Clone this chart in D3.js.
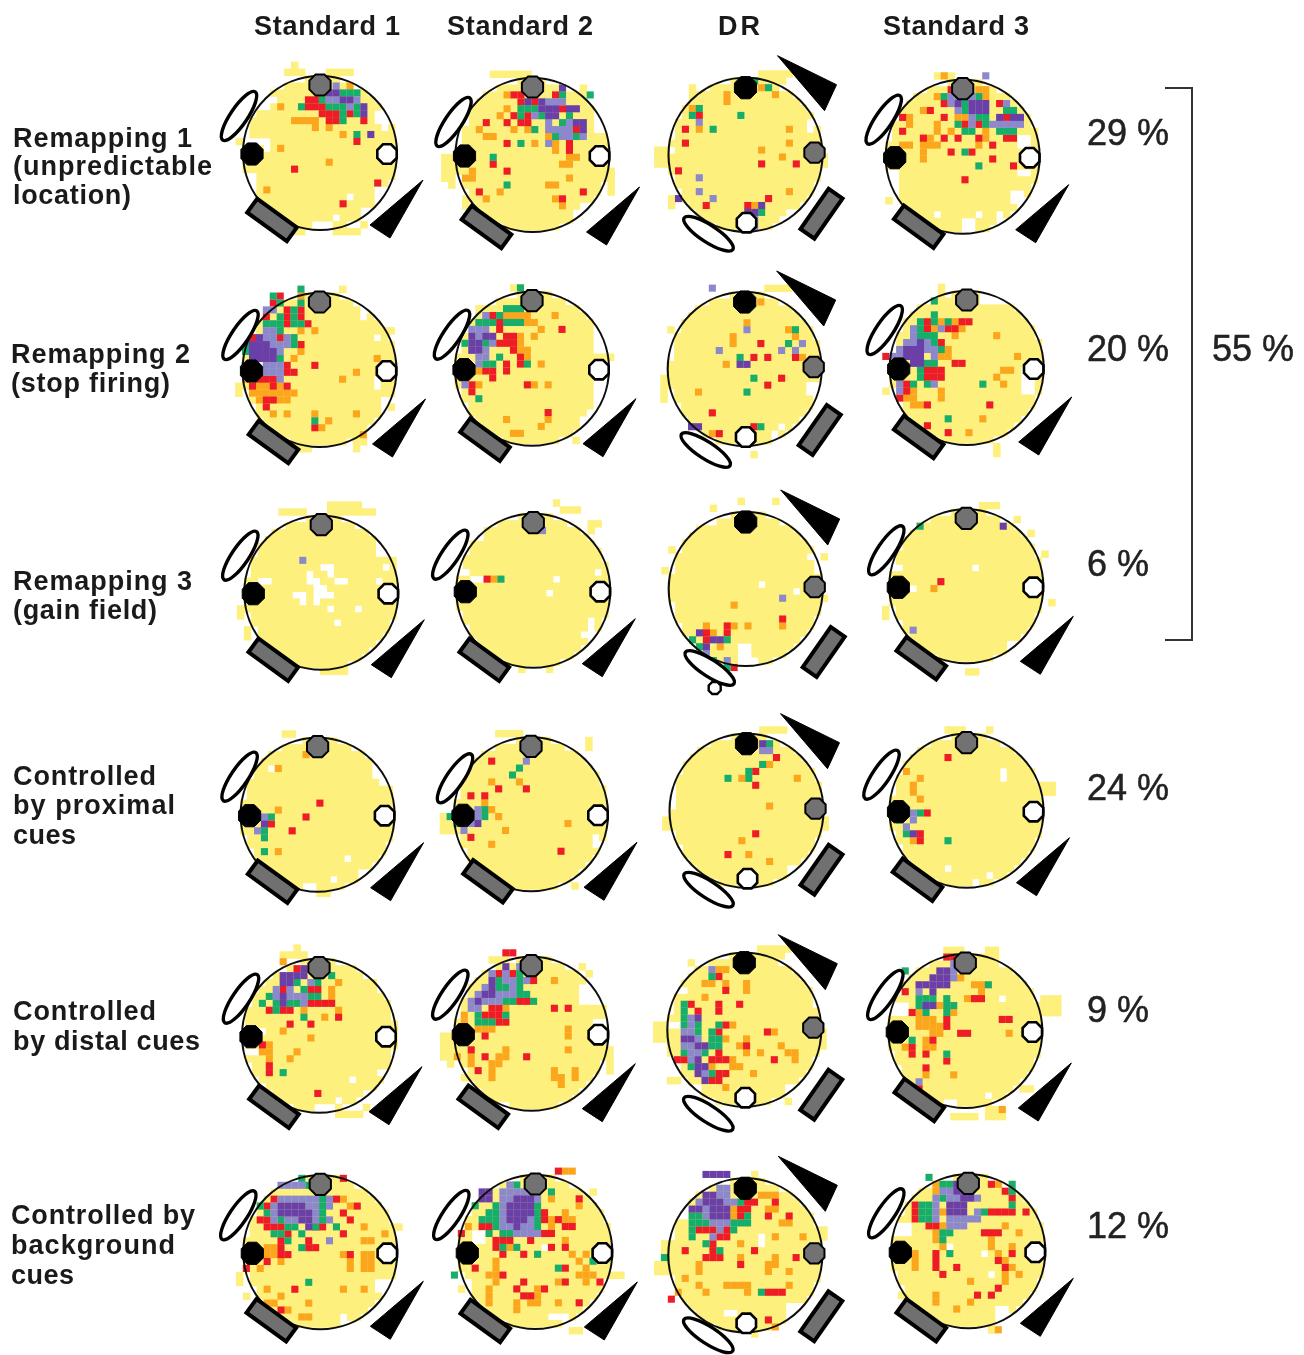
<!DOCTYPE html>
<html><head><meta charset="utf-8">
<script src="https://cdnjs.cloudflare.com/ajax/libs/d3/7.8.5/d3.min.js"></script>
<style>html,body{margin:0;padding:0;background:#fff}svg{display:block}</style>
</head><body><div id="c"></div>
<script>
const columnLabels = ["Standard 1","Standard 2","DR","Standard 3"];
const rowLabels = [
 ["Remapping 1","(unpredictable","location)"],
 ["Remapping 2","(stop firing)"],
 ["Remapping 3","(gain field)"],
 ["Controlled","by proximal","cues"],
 ["Controlled","by distal cues"],
 ["Controlled by","background","cues"]];
const percentLabels = ["29 %","20 %","6 %","24 %","9 %","12 %"];
const bracketLabel = "55 %";

// firing-rate bins per map: "row:col,col-col" (o orange, r red, g green, l light purple, p purple, w empty bin, y extra visited bin)
const m11={o:"2:16 5:6 7:8-11 8:11,13 9:15 11:6 13:13 17:4",r:"4:10-11 5:10-12 6:12-14,16 7:13-14,18 10:17 14:8 16:20 19:15",g:"3:15-17 4:12 5:9,13-15,17 6:15,17 7:15 9:17",l:"2:14 4:13-14,17 5:16",p:"3:13-14 4:15-16 5:18 6:18 9:19",w:"10:1-4 11:4 15:1-2 16:1-2 17:1-2 22:11-13 21:14 18:16 20:18-19 4:3-5 5:3-4 6:20-21 7:20-21 8:21 17:20-21 18:20-21",y:"-1:8 0:7-9,13-16 23:14-17,8-9 22:18 10:0"};
const m12={o:"3:8 5:8 6:7 8:4,9,11 9:14,5-6 10:12,15 11:15 12:17-18 13:16-17 14:3 15:2-3,17 16:14-15 17:7 18:5,15 19:16",r:"3:9-10,15 4:10,12 5:16 6:9,11 7:5,8,10-11 8:18 10:8,17 11:17 13:6 14:8 17:4,19 18:16",g:"3:16,20 5:10-12 6:10,13,17 7:16 8:12 9:15,18 10:10 12:6 16:8",l:"4:14-16 6:12 7:14,17 8:14-17 9:16-17,19 10:14",p:"2:16 4:11,13 5:13-15,17-18 6:14-15 7:18-19 8:19",w:"1:14-15 6:1-2 7:1-2 8:1 9:1 10:1 19:19-20 20:18-20 6:21-22 7:21-22 8:21-22 21:18-19",y:"0:6-11 2:19 3:19 12:-1-0 13:-1-0 14:-1-0 15:-1-0 16:0 14:23 15:23 16:23 17:23 18:2 19:2"};
const m13={o:"2:14 3:16,9 4:9 5:4 8:5,18 10:18 11:14 12:17 17:18 19:13",r:"6:5 8:3 10:3 13:14,19 14:2 18:15 19:6,12",g:"1:13 2:15 5:5 6:4,11 8:7 20:14",l:"7:5 15:5 17:5 18:7 21:13 22:13",p:"18:2 19:14 20:12-13",w:"11:1 5:1-2 6:1 7:21 8:21 20:18 21:17",y:"0:14-18 1:15-17 2:4 3:4 11:-1-0 12:-1-0 13:-1-0 12:23 13:23 18:1 19:1"};
const m14={o:"0:9 3:8 2:14-15 3:15 5:6 6:4,11-12 7:4,8 8:8,10,15 9:6,7,15 10:3-4,6-8,14 11:6 12:6",r:"2:10 4:9,17 5:7 6:3,9,18 7:12,14 8:3 9:6,9,11,14,18-19 10:16 11:10,13 12:16 13:19 15:12",g:"3:9,14 4:12 5:12,18-19 6:14-15 7:11,15 8:12-13,17-19 11:12 13:14",l:"0:15 3:10-13 4:10 5:11 6:13 7:13,16-20 4:18",p:"4:11,13-15 5:13-15 6:17,19-20",w:"9:20-21 10:20-21 20:8,14,17 21:12-13,17 22:12-13 17:19-20 18:19-20 14:20-21 14:1-2 15:1-2 16:1-2 17:1-2",y:"0:8-10 18:1"};
const m21={o:"1:9 6:9,11 9:9 10:8 13:1 14:3-4,6 15:2-8 16:3,6-7 18:5,7,11,17 19:13 20:12 10:20 12:17 13:15 21:18",r:"1:6 2:5 3:7,9 4:4,7,9 5:7,10 7:6 8:9 7:2 11:11,7 12:7-8 13:3-5 14:2,5,7 16:4-5 17:4 20:11",g:"0:9 1:5 2:6,9 3:8 4:6,8 5:4-6,8-9 6:6 7:8 8:8,1 9:1 10:6 19:11",l:"3:4-5 6:4-5 7:4-5,7 8:5-7 9:6 11:4-6 12:4-6 13:6",p:"7:3 8:2-4 9:2-5 10:2-5",w:"3:18 4:18 7:20 13:20 14:20 16:21 17:21 11:3",y:"14:0 15:0 0:15 6:22 23:9-10 22:17-18 23:17 17:22"};
const m22={o:"4:8-11,15 5:10-11,12 6:13 7:10,12 8:10 9:10-11 10:11 11:13 12:4 14:4,12,14 19:8,14 20:13 21:9-10",r:"4:6 5:7 6:7,16 7:8-9 8:7-9 9:9 10:10 11:8,10 12:5-6,8 13:6 14:3,11 15:3 18:14",g:"0:10 3:8-10 4:7 5:4-6,8-10 8:2,5 10:7 11:5-6,11 16:4",l:"4:5 6:3-4,5 7:4 8:6 9:3,5 10:4-5 11:4 14:2",p:"7:3,5-6 8:3-4 9:3-4",w:"4:21-22 5:21-22 6:21-22 7:21-22 8:21-22 9:21-22 11:21-22 12:21-22 13:21-22 14:21-22 15:21-22 16:21 17:21 18:20-21 19:19-21 20:19-20",y:"0:9-10 3:4 10:23 22:18"};
const m23={o:"2:14 5:12 6:18 7:19,10 8:10 10:20 11:9 21:7 15:5",r:"8:14 10:13,15,19 13:17 14:15 18:7 20:13 21:8",g:"6:19 8:18 10:11 13:13 15:12 20:14",l:"0:7 6:12 8:20 9:8,17,19",p:"11:11-12 20:4-5",w:"14:21-22 15:21-22 9:1 10:1 20:17 21:16",y:"6:1 13:0 14:0 15:0 16:0 0:15-18 24:13"};
const m24={o:"5:8,10 6:7,11 7:10,16 9:9 10:8-9,19 12:17-18 13:16 14:17 15:3-4,8 16:3-4,8 17:4-5 19:14 21:12",r:"5:6,11-12 6:6,9-10 8:8 10:0 11:10-11 12:6-8 13:6-8 14:3 16:2 15:3 17:6,15 20:6 21:9",g:"2:7 4:7 5:5,7,9 6:5 7:5-7 8:7 9:8 11:6-7 12:5 13:5 14:4,6,14 19:9",l:"6:4,8 7:4 8:3-4,6 9:2,6-7 10:1-2,7 14:2,7 15:2",p:"8:5 9:3-5 10:3-5 11:4-5",w:"12:20-21 13:20-21 14:20-21 15:20-21 1:14-17 2:14-17 17:1-2",y:"0:8 1:8 23:16 24:16 15:0"};
const m31={l:"7:9",w:"5:20 6:20-21 8:21,12-13 9:13,10 10:20,3-4,10-11,14-15 11:11-12 12:8-9,11-13 13:9,11 14:13,17 16:14",y:"-1:13-17 0:6-9,13-19 14:0 15:0 17:1 18:1 7:22 23:12-15"};
const m32={o:"10:6",r:"10:5",g:"10:7",l:"3:13",w:"10:15,3-4 12:14 9:2 16:20 18:19-20 17:20 4:4 9:21",y:"-1:15 0:16-18 2:20-21 3:20 23:10,14"};
const m33={o:"14:10 17:17,12,10,6 18:7 20:8",r:"16:17 17:9 18:9,6 19:6 23:10",g:"19:9,4 20:5 22:7 23:9",l:"13:17 21:6 22:9",p:"18:5 19:7-8 20:6",w:"11:14 7:21 2:7 8:22 9:22 20:11-12 21:11-12 22:11-13 23:13 14:1 12:19",y:"-1:11,16 0:7 7:23 13:23 6:1 9:0"};
const m34={o:"12:7",r:"11:8",g:"3:5",l:"18:4",p:"3:17",w:"9:13,2 12:4 20:18",y:"0:14-16 2:19 4:21 7:23 14:24 15:0 16:0 24:12-13"};
const m41={o:"3:10 5:6 11:6 17:6",r:"10:12 12:10 14:8 13:5",g:"12:5 14:4 15:4 17:4",l:"12:4 14:3",p:"13:4",w:"18:16 5:5 5:20-21 6:20-21 7:21 21:14 22:10-11 20:18",y:"0:7-8 23:12-13"};
const m42={o:"7:6,10 10:5 11:6 12:7 14:8 16:6 13:17",r:"4:6 8:7,11 9:3,5 15:3 17:16",g:"6:9 5:10 11:5 12:5,0 13:1",l:"4:11 11:4 12:4 13:3 14:2",p:"13:4",w:"4:21 15:21 16:21",y:"12:-1-0 13:-1-0 14:-1-0 0:7-10 1:20 2:20 22:18"};
const m43={o:"5:15 7:11,19 11:15 16:11 18:12 19:15",r:"4:16 6:13 8:13 15:13 18:9",g:"2:15 5:14 6:12 7:9,12",l:"3:14-15",p:"2:14",w:"10:1 11:1 5:1 20:18",y:"0:14-17 13:0 14:0 13:23 14:23"};
const m44={o:"6:3 7:5 8:4 9:4 10:5 16:4",r:"4:9 12:6 15:5 16:5",g:"12:5 13:2 15:3 16:9",l:"12:4 13:4 14:3",p:"15:4",w:"6:17 7:17 20:9 21:15 22:13 18:21 4:20",y:"0:9-11,15 8:23-24 9:23-24"};
const m51={o:"1:7 4:15 5:14 6:14 8:10,15 9:13 11:7 12:11 13:5 14:4-5,9 15:5,8",r:"2:9 5:7,11-12 7:11-12,13-14 8:5,7-8 9:15 10:8,11 13:4 16:5 17:5 20:12",g:"3:14 4:9,12 5:10 6:5,11-12 7:4,6,8-9 8:6 9:10 17:7",l:"4:11 5:6,8 6:6,8-10 7:10",p:"2:10 3:7-10 4:7-8 6:7 7:7",w:"18:17 21:15 22:12-14 17:21 11:4 14:2-3 20:19",y:"-1:9 0:7-10 23:15-18 22:19,9"};
const m52={o:"4:15 8:8 9:2 10:2 11:4-6,17 12:17 14:8,17 15:3,7,8,1 16:3,6-7 17:6,15,18 18:6,15-16,18 19:16",r:"0:8-9 3:7,9 4:12 7:10-11 8:6-7,15,17 9:5-7 10:7-8 12:5 14:3 15:5,11 17:4",g:"3:10 4:7,10 5:7-8,10 6:10-11 7:8-9,12 9:4,8 10:4-6",l:"2:10 3:6,8 4:8-9,11 5:5,9 6:4,7-9 7:3,5-7 8:3-4",p:"2:8 4:6 5:6 6:5-6 7:4",w:"5:19-21 6:19-21 7:19-21 10:21-22 20:19 22:8",y:"1:6-8 2:19 3:20 12:-1-0 13:-1-0 14:-1-0 15:-1-0 16:0 14:23 15:23 16:23 17:23 18:2"};
const m53={o:"3:8-9 5:6-7,9,12 6:12 7:6 11:10 12:16 13:9,12 14:11,17 15:12,14,18-19 16:10,19 17:7,10-11 18:13 20:9",r:"4:8 6:9 8:4,8,11 9:8,5 11:9 12:8,15 14:12 15:8 16:2-3,7-9,16 18:8-9 19:7-8",g:"4:7 8:3 9:3 10:3 11:3,5,8 12:5,7 13:7-8 14:7-8 15:3,6 17:4 18:7",l:"3:7 10:4 11:4 12:3-4 13:5 14:3-4 15:4-5 16:4 18:6",p:"10:5 13:3-4 14:5-6 16:5 17:5-6 18:5 19:6",w:"11:1-2 9:1 8:22 6:2-3 20:5 20:18",y:"0:14-18 1:14-17 2:4 11:-1-0 12:-1-0 13:-1-0 12:23 13:23 14:23 15:1 19:1-2 22:18"};
const m54={o:"4:11 5:13-14 6:14 7:12-13 8:8 9:5,10 10:5-7 11:5-8 12:7-8,18 13:6 14:3,6-7 18:6,10 23:17",r:"1:9-10 6:3 7:13-14 9:4 10:9,17-18 11:9 12:11-12 13:7 14:4 15:4,6 16:9 17:6 20:5",g:"3:3 5:15 7:5-7,9 8:5-6,9-10 9:6,9 13:4 15:9",l:"2:10 3:10 4:10 6:5 19:5",p:"3:8-9 4:7-9 5:5-9 6:7 8:6-7",w:"7:17 22:9-10 21:15 8:1-3 9:1-3",y:"0:9-11,15-16 1:15-16 7:23-25 8:23-25 9:23-25 20:20-21 23:15-17 24:15-17,10-13"};
const m61={o:"4:15 5:16 8:18 9:21 10:18-19 11:4-5 12:4-6,15,18-19 13:6,16,18,19 14:3,16,18-19 17:4,15,18 18:6 19:4-5,10 20:7 21:9-10",r:"1:15 4:5,14 5:4,17 6:15 7:3-4,16 8:4-6,11-12 9:7,15 10:6,10 11:6,10-11 12:6-7,16 13:4 14:1 17:8 20:6",g:"1:9 2:10 4:12 5:3,12 6:4,12 7:6,12 8:7-8,11,14 9:5-6,9 10:7 11:9 16:10",l:"2:6-9 4:6-11,13 5:5,10-11,13 6:5,11 7:5,7-8,11,13 10:13",p:"5:6-9 6:6-10 7:9-10 8:10",w:"11:1-2 2:8 16:1 18:2 21:15 22:15 16:20-21 17:20-21",y:"15:0 16:0 18:1 8:23"};
const m62={o:"0:16-17 4:14 5:18 6:16 7:14,16-17 8:2,14 10:16 11:8 12:17,19 13:6,18 14:6,19 15:5-6,18-20 16:6,15,19 17:5,12 18:5,12 19:5,9,11-12,15 20:9",r:"0:15 4:18 6:13 7:13,15 8:4-5,16-17 9:1,13-14 10:6-8,11 11:6,14,16 12:7,10 14:3,16 15:7 16:10,16,21 17:9,13 18:10-11 19:18",g:"2:9 3:14 5:3,6,12 6:5-6,12 7:4-6,12 8:6,12 9:5,7-8 11:7,9 12:12 13:20 14:15 15:0",l:"2:8 3:7-11 4:7-8,12 5:7 6:7 7:7,11 8:7-8,10-11 9:9-12",p:"3:4-5 4:4-5,9-11 5:8-11 6:8-11 7:8-10 8:9",w:"9:3-4 10:3-4 11:13 21:14-16 16:2",y:"23:17-18 3:20 15:23-24 17:1"};
const m63={o:"3:14-16 5:10,15-16 6:10 7:17-18 9:16,20 10:11 12:11,16 13:5,15-16 14:5,15,18 15:3 16:5,9-12,18 17:6,12,2 22:16",r:"4:12-13,16 5:11-12 6:11,15,18 8:5-7,9 9:8-9 10:7 11:3,7,13 12:6-8,19 13:11 18:1 17:15-17 21:15",g:"4:11 6:4-5,12 7:4-6,10-12 8:4,10 9:4 10:6 11:8 12:0 17:14",l:"2:8-9 3:8-9 4:5,9-10 5:6 6:6 7:7-9 8:8 9:7",p:"0:6-9 3:6-7 4:6-8 5:4-5,7-9 6:7-9",w:"9:14 10:14 20:9-10 19:18-19 20:18-19 5:2-3 6:2-3",y:"13:-1-0 14:-1-0 10:0 11:0 0:13 8:23 9:23 23:13 21:7-8"};
const m64={o:"2:7,16 3:7 6:8 8:8,17 9:7,19 10:7,15 11:8,15,18 12:4,16 13:4,17 14:4,18 15:17,19 16:12,17 18:7 19:7,12 20:10 23:16",r:"2:15 3:17 4:18 5:4 6:4,15-18,20 7:4 8:6-7 9:14-16 12:7,18 13:7,16 14:7,10,17 15:8 17:16 18:13,15",g:"1:6 2:8-9,18 3:18 4:8 5:5-6,18 6:5-6,14 7:5-6 9:8,9 10:8 12:9",l:"3:8-9 4:7,9-10,13 5:7 6:7,13 7:7,9-13 8:9-11",p:"2:10 3:10-12 4:11-12 5:9-11 6:9-11",w:"12:14 15:15 11:9 20:16-17 21:16-17 8:1-3 9:1-3",y:"23:15 18:2 6:4"};

const mapCells=[[m11,m12,m13,m14],[m21,m22,m23,m24],[m31,m32,m33,m34],[m41,m42,m43,m44],[m51,m52,m53,m54],[m61,m62,m63,m64]];

const W=1304,H=1355;
const centers=[[[320,153],[532.5,155],[745.5,154.7],[962.7,156.7]],[[319.5,370],[532,368.7],[744.7,369],[966.7,368]],[[321.3,592.7],[533.3,590.7],[745.7,589],[966.3,586.3]],[[317.6,814.7],[531,814.3],[746.5,810.7],[966.5,810.7]],[[319,1035.7],[531.3,1033.7],[744.3,1029.7],[965.3,1031]],[[320.3,1252.3],[535.3,1252],[745.3,1255.3],[968.3,1251.3]]];
const gridShift={"4,0":-0.5};
const cueShift=[[[0,0,0,0,0,0],[2,5,4,5,2,4],[0,-1,-1,0,0,-1],[4,3,3,1,2,0]],[[2,5,3,2,2,2],[1,4,1,3,1,3],[-1,1,-1,1,-2,1],[0,2,2,2,-1,-1]],[[0,0,0,0,0,0],[-1,2,-1,1,-2,1],[2,3,2,0,1,-1],[3,5,4,3,1,1]],[[3,0,3,1,3,-1],[5,0,3,1,5,1],[-1,-1,1,2,-1,-1],[-1,2,0,0,-4,1]],[[3,4,0,4,3,0],[0,6,1,3,0,-2],[1,5,1,4,1,4],[2,2,3,5,1,1]],[[-1,1,0,2,-1,0],[-2,2,-1,3,-3,0],[0,1,0,0,0,0],[1,2,2,0,-1,-1]]];

const colors={y:"#fdf07c",o:"#fba61f",r:"#ee1c25",g:"#16ae6a",l:"#8c88cc",p:"#6b41a8"};
const CELL=6.93, R=77, MID=11.68;

function parse(s){const out=[];if(!s)return out;
 s.trim().split(/\s+/).forEach(tok=>{const i=tok.indexOf(":");const row=+tok.slice(0,i);
  tok.slice(i+1).split(",").forEach(p=>{const m=p.match(/^(-?\d+)(?:-(-?\d+))?$/);const a=+m[1],b=m[2]===undefined?a:+m[2];
   for(let c=a;c<=b;c++)out.push([c,row]);});});return out;}

const svg=d3.select("#c").append("svg").attr("width",W).attr("height",H).attr("viewBox",`0 0 ${W} ${H}`);
const defs=svg.append("defs");
const soft=defs.append("filter").attr("id","soft").attr("filterUnits","userSpaceOnUse").attr("x",0).attr("y",0).attr("width",W).attr("height",H);
soft.append("feGaussianBlur").attr("stdDeviation",0.55);
const root=svg.append("g").attr("filter","url(#soft)");

const octagon=(r)=>d3.range(8).map(i=>{const a=Math.PI/8+i*Math.PI/4;return [r*Math.cos(a),r*Math.sin(a)].join(",");}).join(" ");

centers.forEach((rowC,ri)=>rowC.forEach(([cx,cy],ci)=>{
 const data=mapCells[ri][ci];
 const shift=gridShift[ri+","+ci]||0;
 const x=d3.scaleLinear().domain([0,1]).range([cx+(shift-MID)*CELL,cx+(shift-MID+1)*CELL]);
 const y=d3.scaleLinear().domain([0,1]).range([cy-MID*CELL,cy+(1-MID)*CELL]);
 const g=root.append("g");
 const holes=new Set(parse(data.w).map(d=>d.join()));
 const base=[];
 d3.range(-3,28).forEach(c=>d3.range(-3,28).forEach(r=>{
   const d=Math.hypot(x(c)-cx,y(r)-cy);
   if(d<=R-1&&!holes.has([c,r].join()))base.push([c,r]);
 }));
 const layers=[["y",base.concat(parse(data.y))],["o",parse(data.o)],["r",parse(data.r)],["g",parse(data.g)],["l",parse(data.l)],["p",parse(data.p)]];
 layers.forEach(([k,cells])=>{
  const pad=k==="y"?0.5:0.15;
  g.append("g").selectAll("rect").data(cells).join("rect")
   .attr("x",d=>x(d[0])-CELL/2).attr("y",d=>y(d[1])-CELL/2)
   .attr("width",CELL+pad).attr("height",CELL+pad).attr("fill",colors[k]);
 });
 g.append("circle").attr("cx",cx).attr("cy",cy).attr("r",R).attr("fill","none").attr("stroke","#111").attr("stroke-width",2.1);
 const s=cueShift[ri][ci];
 const dr=ci===2;
 const cue=(ox,oy,r,fill,sw)=>g.append("polygon").attr("points",octagon(r)).attr("transform",`translate(${cx+ox},${cy+oy})`).attr("fill",fill).attr("stroke","#000").attr("stroke-width",sw);
 const tri=dr?[[33,-99],[92,-70],[80,-44]]:[[103,27],[50,72],[70,85]];
 g.append("polygon").attr("points",tri.map(p=>[cx+p[0]+s[2],cy+p[1]+s[3]].join(",")).join(" ")).attr("fill","#000").attr("stroke","#000").attr("stroke-width",1);
 const rc=dr?[76,60,-55]:[-48,67,36];
 g.append("rect").attr("x",-24.5).attr("y",-8.5).attr("width",49).attr("height",17)
  .attr("transform",`translate(${cx+rc[0]+s[0]},${cy+rc[1]+s[1]}) rotate(${rc[2]})`)
  .attr("fill","#6f6f6f").attr("stroke","#000").attr("stroke-width",4);
 const el=dr?[-37,80,33]:[-81,-37,-56];
 g.append("ellipse").attr("rx",29).attr("ry",8.5)
  .attr("transform",`translate(${cx+el[0]+s[4]},${cy+el[1]+s[5]}) rotate(${el[2]})`)
  .attr("fill","#fff").attr("stroke","#000").attr("stroke-width",3.4);
 if(dr){
  cue(0,-67,12,"#000",1);cue(69,-2,11,"#727272",2);
  if(ri===2){cue(-31,99,6.5,"#fff",2.4);}else{cue(1,68,10.5,"#fff",2.6);}
 }else{
  cue(0,-68,11.5,"#727272",2);cue(-68,1,12,"#000",1);cue(67,1,10.5,"#fff",2.6);
 }
}));

const textG=svg.append("g").attr("font-family","'Liberation Sans',Arial,sans-serif");
const colLayout=[[254,400],[447,593],[718,760],[883,1029]];
columnLabels.forEach((t,i)=>{
 textG.append("text").attr("x",colLayout[i][0]).attr("y",35).attr("font-size",27).attr("font-weight","bold").attr("fill","#1a1a1a")
  .attr("textLength",colLayout[i][1]-colLayout[i][0]).attr("lengthAdjust","spacing").text(t);
});
const rowLayout=[[[13,192,147],[13,212,175],[13,131,204]],[[11,190,363],[11,170,392]],[[13,192,590],[13,157,619]],[[13,156,785],[13,175,814],[13,76,844]],[[13,156,1020],[13,200,1050]],[[11,195,1224],[11,175,1254],[11,74,1284]]];
rowLabels.forEach((lines,i)=>lines.forEach((t,j)=>{
 const L=rowLayout[i][j];
 textG.append("text").attr("x",L[0]).attr("y",L[2]).attr("font-size",27).attr("font-weight","bold").attr("fill","#1a1a1a")
  .attr("textLength",L[1]-L[0]).attr("lengthAdjust","spacing").text(t);
}));
const pctY=[145,361,576,800,1022,1238];
percentLabels.forEach((t,i)=>{
 textG.append("text").attr("x",1087).attr("y",pctY[i]).attr("font-size",36).attr("fill","#222").attr("stroke","#222").attr("stroke-width",0.5).text(t);
});
textG.append("text").attr("x",1212).attr("y",361).attr("font-size",36).attr("fill","#222").attr("stroke","#222").attr("stroke-width",0.5).text(bracketLabel);
svg.append("path").attr("d",d3.line()([[1165,88],[1192,88],[1192,640],[1165,640]])).attr("fill","none").attr("stroke","#333").attr("stroke-width",2);
</script></body></html>
